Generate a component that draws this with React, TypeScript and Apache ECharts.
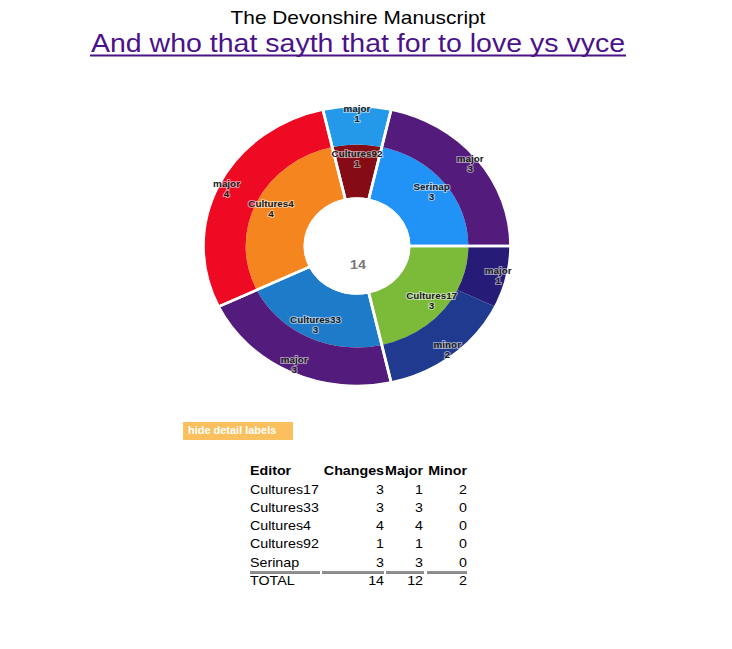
import React, { useEffect, useRef } from "react";
import * as echarts from "echarts";

// ---- data ----
const editors = ["Cultures17", "Cultures33", "Cultures4", "Cultures92", "Serinap"];
const changes = [3, 3, 4, 1, 3];
const majorCounts = [1, 3, 4, 1, 3];
const minorCounts = [2, 0, 0, 0, 0];
const innerColors = ["#7CBB3A", "#1E7BC9", "#F5851F", "#850C16", "#2192F6"];
const majorColors = ["#261C78", "#521B7C", "#EE0A22", "#2499E9", "#521B7C"];
const minorColors = ["#1F3A8E", "#1F3A8E", "#1F3A8E", "#1F3A8E", "#1F3A8E"];
const tableHeaders = ["Editor", "Changes", "Major", "Minor"];
const titleText = "The Devonshire Manuscript";
const subtitleText = "And who that sayth that for to love ys vyce";
const buttonText = "hide detail labels";
const totalLabel = "TOTAL";

const S = 1.097; // horizontal stretch of the reference
const X = (px: number) => px / S;

export default function App() {
  const ref = useRef<HTMLDivElement>(null);
  useEffect(() => {
    if (!ref.current) return;
    const chart = echarts.init(ref.current, undefined, { renderer: "svg" });

    const innerData = editors.map((e, i) => ({
      name: e,
      value: changes[i],
      itemStyle: { color: innerColors[i] },
    }));
    const outerData: any[] = [];
    editors.forEach((e, i) => {
      if (majorCounts[i] > 0)
        outerData.push({ name: "major", value: majorCounts[i], itemStyle: { color: majorColors[i] } });
      if (minorCounts[i] > 0)
        outerData.push({ name: "minor", value: minorCounts[i], itemStyle: { color: minorColors[i] } });
    });

    const center = [X(357), 246];
    const labelStyle = {
      show: true,
      position: "inside",
      formatter: "{b}\n{c}",
      fontSize: 9,
      fontWeight: "bold",
      fontFamily: "Liberation Sans, Arial, sans-serif",
      color: "#1a1a1a",
      lineHeight: 10,
      textBorderColor: "rgba(255,255,255,0.5)",
      textBorderWidth: 2,
    };
    const basePie = {
      type: "pie",
      center,
      startAngle: 0,
      clockwise: true,
      avoidLabelOverlap: false,
      silent: true,
      labelLine: { show: false },
      emphasis: { disabled: true },
    };

    const totalChanges = changes.reduce((a, b) => a + b, 0);
    const totalMajor = majorCounts.reduce((a, b) => a + b, 0);
    const totalMinor = minorCounts.reduce((a, b) => a + b, 0);

    const font = "Liberation Sans, Arial, sans-serif";
    const colRight = [0, X(384), X(423), X(467)];
    const rowY = [489.5, 507.7, 525.9, 544.1, 562.3];
    const graphics: any[] = [];
    graphics.push({
      type: "text",
      x: X(358),
      y: 17,
      style: { text: titleText, font: `19px ${font}`, fill: "#000", align: "center", verticalAlign: "middle" },
    });
    graphics.push({
      type: "text",
      x: X(358),
      y: 43,
      style: { text: subtitleText, font: `26px ${font}`, fill: "#4B128A", align: "center", verticalAlign: "middle" },
    });
    graphics.push({
      type: "line",
      shape: { x1: X(90), y1: 55.5, x2: X(626), y2: 55.5 },
      style: { stroke: "#4B128A", lineWidth: 1.8 },
    });
    graphics.push({
      type: "text",
      x: X(358),
      y: 265,
      style: { text: String(totalChanges), font: `bold 13px ${font}`, fill: "#777", align: "center", verticalAlign: "middle" },
    });
    graphics.push({
      type: "rect",
      shape: { x: X(183), y: 422, width: X(293) - X(183), height: 18 },
      style: { fill: "#FAC05E" },
    });
    graphics.push({
      type: "text",
      x: X(188),
      y: 431,
      style: { text: buttonText, font: `bold 10px ${font}`, fill: "#fff", align: "left", verticalAlign: "middle" },
    });
    // table header
    tableHeaders.forEach((h, c) => {
      graphics.push({
        type: "text",
        x: c === 0 ? X(250) : colRight[c],
        y: 471,
        style: { text: h, font: `bold 13px ${font}`, fill: "#000", align: c === 0 ? "left" : "right", verticalAlign: "middle" },
      });
    });
    editors.forEach((e, r) => {
      const vals = [e, String(changes[r]), String(majorCounts[r]), String(minorCounts[r])];
      vals.forEach((v, c) => {
        graphics.push({
          type: "text",
          x: c === 0 ? X(250) : colRight[c],
          y: rowY[r],
          style: { text: v, font: `13px ${font}`, fill: "#000", align: c === 0 ? "left" : "right", verticalAlign: "middle" },
        });
      });
    });
    const totals = [totalLabel, String(totalChanges), String(totalMajor), String(totalMinor)];
    totals.forEach((v, c) => {
      graphics.push({
        type: "text",
        x: c === 0 ? X(250) : colRight[c],
        y: 580.5,
        style: { text: v, font: `13px ${font}`, fill: "#000", align: c === 0 ? "left" : "right", verticalAlign: "middle" },
      });
    });
    const segs = [
      [250, 320],
      [322, 384],
      [386, 424],
      [427, 467],
    ];
    segs.forEach(([a, b]) => {
      graphics.push({
        type: "line",
        shape: { x1: X(a), y1: 572, x2: X(b), y2: 572 },
        style: { stroke: "#222", lineWidth: 1 },
      });
      graphics.push({
        type: "line",
        shape: { x1: X(a), y1: 573.5, x2: X(b), y2: 573.5 },
        style: { stroke: "#888", lineWidth: 1 },
      });
    });

    chart.setOption({
      animation: false,
      backgroundColor: "#fff",
      series: [
        { ...basePie, radius: [48.5, 101.5], data: innerData, label: { show: false }, z: 2 },
        { ...basePie, radius: [101.5, 139.5], data: outerData, label: { show: false }, z: 2 },
        {
          ...basePie,
          radius: [47.5, 140],
          data: changes.map((v, i) => ({ name: editors[i], value: v })),
          itemStyle: { color: "rgba(0,0,0,0)", borderColor: "#fff", borderWidth: 2.5 },
          label: { show: false },
          z: 3,
        },
        {
          ...basePie,
          radius: [80, 88],
          data: innerData.map((d) => ({ ...d, itemStyle: { color: "rgba(0,0,0,0)" } })),
          label: labelStyle,
          z: 4,
        },
        {
          ...basePie,
          radius: [125, 133],
          data: outerData.map((d) => ({ ...d, itemStyle: { color: "rgba(0,0,0,0)" } })),
          label: labelStyle,
          z: 4,
        },
      ],
      graphic: graphics,
    });
    return () => chart.dispose();
  }, []);

  return (
    <div
      ref={ref}
      style={{
        position: "fixed",
        left: 0,
        top: 0,
        width: 732 / S,
        height: 649,
        transform: `scaleX(${S})`,
        transformOrigin: "0 0",
      }}
    />
  );
}
